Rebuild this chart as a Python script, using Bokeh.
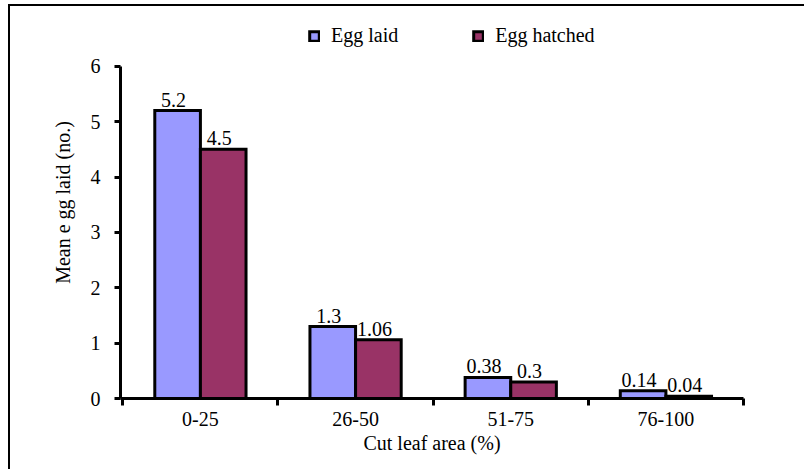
from bokeh.plotting import figure
from bokeh.models import Range1d, FixedTicker, Legend, LegendItem, ColumnDataSource
from bokeh.core.properties import value
from bokeh.embed import file_html
from bokeh.resources import INLINE

categories = ["0-25", "26-50", "51-75", "76-100"]
egg_laid = [5.2, 1.3, 0.38, 0.14]
egg_hatched = [4.5, 1.06, 0.3, 0.04]
y_ticks = [0, 1, 2, 3, 4, 5, 6]

FONT = "Liberation Serif"
centers = [i + 0.5 for i in range(len(categories))]
off = 0.147
bw = 0.294

src_laid = ColumnDataSource(dict(x=[c - off for c in centers], top=egg_laid,
                                 lab=[str(v) for v in egg_laid]))
src_hatch = ColumnDataSource(dict(x=[c + off for c in centers], top=egg_hatched,
                                  lab=[str(v) for v in egg_hatched]))

p = figure(width=796, height=465, x_range=Range1d(-0.015, 4), y_range=Range1d(0, 7.08),
           output_backend="svg", toolbar_location=None,
           min_border_left=110, min_border_right=63, min_border_top=0, min_border_bottom=73,
           styles={"border-top": "2px solid black", "border-left": "2px solid black",
                   "margin-left": "8px", "margin-top": "4px"})
p.outline_line_color = None
p.grid.visible = False
p.background_fill_color = "white"
p.border_fill_color = "white"

r1 = p.vbar(x="x", top="top", width=bw, source=src_laid, fill_color="#9999FF",
            line_color="black", line_width=3, line_join="miter")
r2 = p.vbar(x="x", top="top", width=bw, source=src_hatch, fill_color="#993366",
            line_color="black", line_width=3, line_join="miter")

for s in (src_laid, src_hatch):
    p.text(x="x", y="top", text="lab", source=s, text_align="center",
           text_baseline="alphabetic", y_offset=-11, x_offset=-4,
           text_font=value(FONT), text_font_size="20px", text_color="black")

# x axis
xa = p.xaxis[0]
xa.ticker = FixedTicker(ticks=centers, minor_ticks=[0, 1, 2, 3, 4])
xa.major_label_overrides = {c: lab for c, lab in zip(centers, categories)}
xa.major_tick_line_color = None
xa.major_tick_out = 6
xa.major_tick_in = 0
xa.minor_tick_line_color = "black"
xa.minor_tick_line_width = 3
xa.minor_tick_out = 7
xa.minor_tick_in = 0
xa.axis_line_width = 3
xa.axis_line_color = "black"
xa.major_label_standoff = 6
xa.major_label_text_font = FONT
xa.major_label_text_font_size = "20px"
xa.major_label_text_color = "black"
xa.axis_label = "Cut leaf area (%)"
xa.axis_label_text_font = FONT
xa.axis_label_text_font_size = "20px"
xa.axis_label_text_font_style = "normal"
xa.axis_label_text_color = "black"
xa.axis_label_standoff = 3

# y axis
ya = p.yaxis[0]
ya.ticker = FixedTicker(ticks=y_ticks)
ya.bounds = (0, 6)
ya.minor_tick_line_color = None
ya.major_tick_line_color = "black"
ya.major_tick_line_width = 3
ya.major_tick_out = 6
ya.major_tick_in = 0
ya.axis_line_width = 3
ya.axis_line_color = "black"
ya.major_label_standoff = 14
ya.major_label_text_font = FONT
ya.major_label_text_font_size = "20px"
ya.major_label_text_color = "black"
ya.axis_label = "Mean e gg laid (no.)"
ya.axis_label_text_font = FONT
ya.axis_label_text_font_size = "20px"
ya.axis_label_text_font_style = "normal"
ya.axis_label_text_color = "black"
ya.axis_label_standoff = 14

legend = Legend(items=[LegendItem(label="Egg laid", renderers=[r1]),
                       LegendItem(label="Egg hatched", renderers=[r2])],
                orientation="horizontal", location=(188, 351),
                glyph_width=12, glyph_height=12, label_standoff=11, spacing=74,
                padding=0, margin=0, border_line_color=None,
                background_fill_alpha=0,
                label_text_font=FONT, label_text_font_size="20px",
                label_text_color="black", label_height=20)
p.add_layout(legend, "center")

open("out.html", "w").write(file_html(p, INLINE))
